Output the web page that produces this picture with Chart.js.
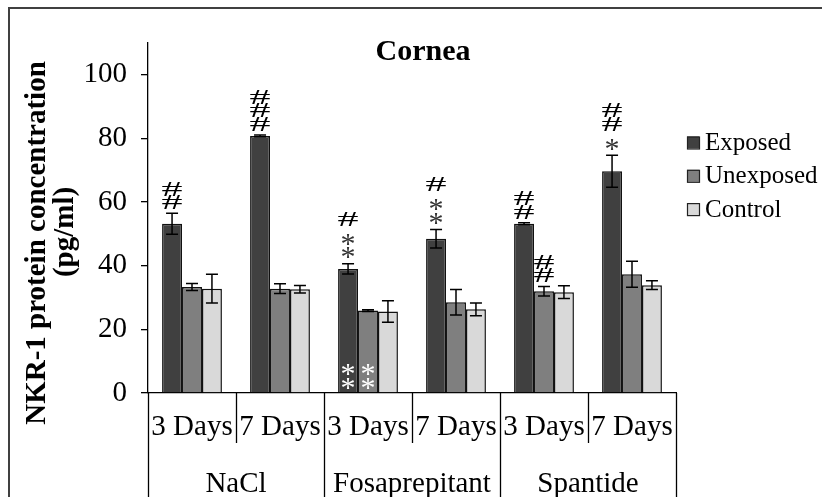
<!DOCTYPE html>
<html>
<head>
<meta charset="utf-8">
<script src="https://cdn.jsdelivr.net/npm/chart.js@4/dist/chart.umd.min.js"></script>
<style>
  html, body { margin: 0; padding: 0; background: #fff; }
  #wrap { width: 822px; height: 497px; position: relative; }
</style>
</head>
<body>
<div id="wrap"><canvas id="c" width="822" height="497"></canvas></div>
<script>
// Treatment groups and time points
const groups = ['NaCl', 'Fosaprepitant', 'Spantide'];
const periods = ['3 Days', '7 Days', '3 Days', '7 Days', '3 Days', '7 Days'];

// NKR-1 protein concentration (pg/ml), mean and error
const exposed      = [53.2, 80.8, 39.0, 48.5, 53.2, 69.7];
const exposedErr   = [3.3, 0.3, 1.6, 2.9, 0.3, 5.0];
const unexposed    = [33.3, 32.8, 25.9, 28.5, 32.0, 37.3];
const unexposedErr = [1.1, 1.5, 0.3, 4.0, 1.5, 4.1];
const control      = [32.8, 32.6, 25.6, 26.3, 31.7, 33.9];
const controlErr   = [4.5, 1.2, 3.4, 2.0, 2.0, 1.4];

// Significance marks above each bar (listed from the bar upward)
const exposedMarks   = ['##', '###', '**#', '**#', '##', '*##'];
const unexposedMarks = ['', '', '', '', '##', ''];
const controlMarks   = ['', '', '', '', '', ''];
// Marks printed inside the bars, near the base
const exposedInner   = ['', '', '**', '', '', ''];
const unexposedInner = ['', '', '**', '', '', ''];

const yTicks = [0, 20, 40, 60, 80, 100];

const SERIF = '"Liberation Serif", "Times New Roman", serif';

const extras = [
  { err: exposedErr, marks: exposedMarks, inner: exposedInner },
  { err: unexposedErr, marks: unexposedMarks, inner: unexposedInner },
  { err: controlErr, marks: controlMarks, inner: [] }
];

function drawMark(ctx, ch, x, cy, color) {
  ctx.save();
  ctx.fillStyle = color;
  ctx.textAlign = 'center';
  ctx.textBaseline = 'alphabetic';
  if (ch === '#') {
    ctx.font = '21px ' + SERIF;
    const m = ctx.measureText('#');
    const off = (m.actualBoundingBoxAscent - m.actualBoundingBoxDescent) / 2;
    ctx.translate(x, cy);
    ctx.scale(2.0, 1);
    ctx.fillText('#', 0, off);
  } else {
    ctx.font = '30px ' + SERIF;
    const m = ctx.measureText('*');
    const off = (m.actualBoundingBoxAscent - m.actualBoundingBoxDescent) / 2;
    ctx.fillText('*', x, cy + off);
  }
  ctx.restore();
}

const decorations = {
  id: 'decorations',
  beforeDraw(chart) {
    const ctx = chart.ctx;
    ctx.save();
    ctx.fillStyle = '#fff';
    ctx.fillRect(0, 0, chart.width, chart.height);
    ctx.strokeStyle = '#404040';
    ctx.lineWidth = 2;
    ctx.strokeRect(9, 8, chart.width + 50, chart.height + 50);
    ctx.restore();
  },
  afterDatasetsDraw(chart) {
    const ctx = chart.ctx;
    const y = chart.scales.y;
    const x = chart.scales.x;
    ctx.save();
    // error bars
    chart.data.datasets.forEach((ds, di) => {
      const meta = chart.getDatasetMeta(di);
      const ex = extras[di];
      meta.data.forEach((bar, i) => {
        const v = ds.data[i], e = ex.err[i];
        const yt = y.getPixelForValue(v + e), yb = y.getPixelForValue(v - e);
        ctx.strokeStyle = '#000';
        ctx.lineWidth = 1.5;
        ctx.beginPath();
        ctx.moveTo(bar.x, yt); ctx.lineTo(bar.x, yb);
        ctx.moveTo(bar.x - 6, yt); ctx.lineTo(bar.x + 6, yt);
        ctx.moveTo(bar.x - 6, yb); ctx.lineTo(bar.x + 6, yb);
        ctx.stroke();

        // marks stacked above the error bar
        let cur = yt - 4, prev = null;
        for (const ch of ex.marks[i] || '') {
          if (prev === '*' && ch === '#') cur -= 7;
          drawMark(ctx, ch, bar.x, cur - 7, ch === '#' ? '#000' : '#333');
          cur -= 13.5;
          prev = ch;
        }
        // marks inside the bar
        let cin = y.getPixelForValue(0) - 3;
        for (const ch of ex.inner[i] || '') {
          drawMark(ctx, ch, bar.x, cin - 7, '#fff');
          cin -= 14;
        }
      });
    });

    // category separators and group labels
    const base = y.getPixelForValue(0);
    const step = (x.right - x.left) / periods.length;
    ctx.strokeStyle = '#000';
    ctx.lineWidth = 1.3;
    for (let k = 0; k <= periods.length; k++) {
      const px = Math.round(x.left + k * step) + 0.5;
      ctx.beginPath();
      ctx.moveTo(px, base);
      ctx.lineTo(px, k % 2 === 0 ? chart.height : base + 50);
      ctx.stroke();
    }
    ctx.fillStyle = '#000';
    ctx.font = '29px ' + SERIF;
    ctx.textAlign = 'center';
    ctx.textBaseline = 'alphabetic';
    groups.forEach((g, gi) => {
      ctx.fillText(g, x.left + (gi * 2 + 1) * step, 492);
    });

    // title
    ctx.font = 'bold 30px ' + SERIF;
    ctx.fillText('Cornea', 423, 60);

    // y axis title
    ctx.save();
    ctx.translate(45, 243);
    ctx.rotate(-Math.PI / 2);
    ctx.font = 'bold 29px ' + SERIF;
    ctx.fillText('NKR-1 protein concentration', 0, 0);
    ctx.restore();
    ctx.save();
    ctx.translate(73, 232);
    ctx.rotate(-Math.PI / 2);
    ctx.font = 'bold 29px ' + SERIF;
    ctx.fillText('(pg/ml)', 0, 0);
    ctx.restore();

    // legend
    ctx.font = '25px ' + SERIF;
    ctx.textAlign = 'left';
    ctx.textBaseline = 'middle';
    chart.data.datasets.forEach((ds, di) => {
      const cy = 142.5 + di * 33.3;
      ctx.fillStyle = ds.backgroundColor;
      ctx.fillRect(687, cy - 6, 12, 12);
      ctx.strokeStyle = '#222';
      ctx.lineWidth = 1.2;
      ctx.strokeRect(687.5, cy - 5.5, 12, 12);
      ctx.fillStyle = '#000';
      ctx.fillText(ds.label, 705, cy + 1);
    });
    ctx.restore();
  }
};

new Chart(document.getElementById('c'), {
  type: 'bar',
  data: {
    labels: periods,
    datasets: [
      { label: 'Exposed', data: exposed, backgroundColor: '#404040' },
      { label: 'Unexposed', data: unexposed, backgroundColor: '#7f7f7f' },
      { label: 'Control', data: control, backgroundColor: '#d9d9d9' }
    ]
  },
  options: {
    responsive: false,
    animation: false,
    devicePixelRatio: 1,
    layout: { padding: { left: 0, right: 146, top: 43, bottom: 0 } },
    datasets: {
      bar: {
        borderColor: '#111',
        borderWidth: 1.5,
        categoryPercentage: 0.68,
        barPercentage: 1.0
      }
    },
    plugins: {
      legend: { display: false },
      title: { display: false },
      tooltip: { enabled: false }
    },
    scales: {
      x: {
        type: 'category',
        offset: true,
        grid: { display: false },
        border: { display: true, color: '#000', width: 1.3 },
        ticks: {
          color: '#000',
          font: { family: SERIF, size: 29 },
          padding: 9,
          maxRotation: 0,
          autoSkip: false
        },
        afterFit(scale) { scale.height = 104; }
      },
      y: {
        min: 0,
        max: 110,
        afterBuildTicks(scale) {
          scale.ticks = yTicks.map(v => ({ value: v }));
        },
        grid: {
          drawOnChartArea: false,
          drawTicks: true,
          tickLength: 7,
          color: '#000',
          lineWidth: 1.3
        },
        border: { display: true, color: '#000', width: 1.3 },
        ticks: {
          color: '#000',
          font: { family: SERIF, size: 29 },
          padding: 14
        },
        afterFit(scale) { scale.width = 148; }
      }
    }
  },
  plugins: [decorations]
});
</script>
</body>
</html>
